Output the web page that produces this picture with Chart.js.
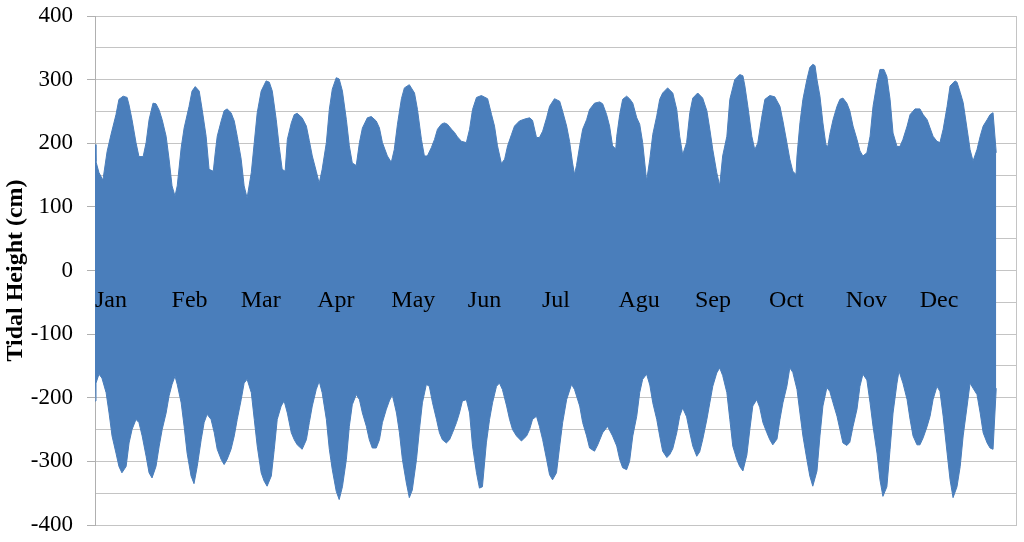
<!DOCTYPE html>
<html lang="en">
  <head>
    <meta charset="UTF-8">
    <!-- Chart.js CDN -->
    <script src="https://cdn.jsdelivr.net/npm/chart.js"></script>

    <style>
      body { margin: 0; background: #fff; }
      #tideChart { display: block; }
    </style>
  </head>
  <body>
    <canvas id="tideChart" width="1024" height="542"></canvas>

    <script>
      // month labels sit at the first day of each month
      const monthLabels = ['Jan', 'Feb', 'Mar', 'Apr', 'May', 'Jun', 'Jul', 'Agu', 'Sep', 'Oct', 'Nov', 'Dec'];
      const monthStart = [0, 31, 59, 90, 120, 151, 181, 212, 243, 273, 304, 334];

      // upper envelope of the tide (high waters), day of year / cm
      const highDay = [0, 0.4, 1.6, 3.2, 4.9, 6.5, 8.5, 9.7, 11.4, 13.0, 13.8, 15.0, 16.6, 17.8, 19.5, 20.7, 21.9, 23.5, 24.7, 26.0,
        27.2, 28.8, 30.0, 31.2, 32.4, 33.3, 34.9, 36.1, 38.1, 39.3, 40.6, 42.2, 43.4, 45.0, 46.2, 47.9, 48.7, 49.5, 51.1, 52.3,
        53.5, 55.1, 56.4, 57.6, 59.2, 60.4, 61.6, 63.3, 64.5, 65.7, 67.3, 69.3, 70.6, 71.8, 73.4, 74.6, 75.8, 77.0, 77.9, 79.5,
        80.7, 81.9, 83.9, 85.6, 86.8, 88.0, 89.6, 90.8, 92.0, 93.7, 94.9, 96.1, 97.7, 98.9, 100.2, 101.8, 103.0, 104.2, 105.8, 107.1,
        108.3, 110.3, 111.9, 113.9, 115.2, 116.4, 118.4, 120.0, 121.2, 122.5, 124.1, 125.3, 127.3, 129.4, 130.6, 132.2, 133.4, 134.6, 136.2, 137.5,
        138.7, 140.3, 141.5, 142.7, 144.4, 145.6, 146.8, 148.4, 150.4, 151.7, 152.9, 154.5, 156.5, 159.0, 160.6, 161.8, 163.0, 164.6, 165.9, 167.1,
        168.7, 169.9, 171.9, 174.0, 176.0, 177.2, 178.8, 180.0, 181.3, 182.9, 184.1, 186.1, 188.2, 189.4, 191.0, 192.2, 193.4, 194.2, 195.0, 196.3,
        197.5, 199.1, 200.3, 202.3, 204.4, 205.6, 207.2, 208.4, 209.6, 210.9, 211.3, 212.5, 213.7, 215.3, 216.5, 217.8, 219.4, 220.6, 221.8, 223.4,
        224.7, 225.9, 227.5, 228.7, 229.9, 231.9, 234.0, 235.6, 236.8, 238.0, 239.6, 240.9, 242.1, 244.1, 246.1, 247.8, 249.0, 250.2, 251.8, 253.0,
        254.2, 255.9, 257.1, 259.1, 261.1, 262.4, 263.2, 264.4, 266.0, 267.2, 268.4, 270.1, 271.3, 273.3, 275.3, 277.4, 278.6, 280.2, 281.4, 282.6,
        283.9, 284.3, 285.5, 286.7, 288.3, 289.5, 290.7, 291.6, 292.4, 293.6, 294.8, 296.0, 296.8, 297.6, 298.9, 300.5, 301.7, 302.9, 304.5, 305.7,
        307.0, 308.6, 309.8, 311.0, 312.6, 313.9, 315.1, 316.7, 317.9, 319.5, 320.7, 322.0, 323.2, 324.8, 326.0, 327.2, 328.9, 330.1, 332.1, 334.1,
        335.4, 337.0, 338.2, 339.4, 341.0, 342.2, 343.5, 345.1, 346.3, 348.3, 349.1, 350.4, 351.6, 353.2, 354.4, 355.6, 357.2, 358.5, 359.7, 361.3,
        362.5, 363.7, 365.0];
      const highCm = [198, 171, 154, 142, 187, 214, 245, 269, 274, 272, 260, 237, 201, 179, 179, 201, 237, 263, 262, 252,
        237, 211, 175, 133, 117, 133, 193, 224, 258, 282, 289, 282, 253, 211, 159, 156, 185, 211, 235, 251,
        254, 248, 235, 211, 175, 133, 114, 154, 201, 248, 282, 298, 296, 282, 237, 195, 159, 156, 206, 232,
        245, 247, 240, 227, 204, 180, 156, 137, 159, 201, 253, 285, 303, 301, 282, 237, 196, 169, 165, 201,
        224, 240, 242, 235, 224, 201, 180, 170, 190, 230, 270, 287, 292, 279, 253, 206, 180, 180, 193, 206,
        222, 230, 232, 230, 222, 217, 210, 203, 201, 222, 253, 272, 275, 270, 245, 227, 196, 168, 175, 196,
        214, 227, 235, 238, 240, 236, 209, 209, 219, 240, 258, 270, 266, 250, 227, 203, 169, 151, 165, 196,
        222, 237, 253, 263, 265, 262, 245, 227, 196, 191, 211, 245, 269, 274, 270, 263, 240, 230, 201, 141,
        175, 214, 243, 269, 279, 287, 279, 253, 211, 182, 201, 248, 271, 279, 271, 251, 222, 190, 154, 133,
        180, 211, 269, 300, 308, 306, 290, 258, 211, 190, 200, 243, 269, 275, 273, 258, 235, 201, 175, 156,
        151, 180, 232, 269, 300, 319, 324, 322, 300, 274, 232, 198, 195, 214, 237, 258, 269, 271, 263, 251,
        227, 206, 188, 180, 185, 211, 258, 295, 316, 316, 305, 269, 216, 195, 195, 206, 227, 245, 254, 254,
        245, 237, 224, 211, 203, 201, 222, 258, 290, 298, 296, 280, 264, 222, 190, 172, 190, 211, 227, 237,
        245, 248, 185];

      // lower envelope of the tide (low waters), day of year / cm
      const lowDay = [0, 0.4, 1.6, 2.8, 4.5, 5.7, 6.9, 8.5, 9.7, 10.9, 12.6, 13.8, 15.0, 16.6, 17.8, 19.1, 20.7, 21.9, 23.1, 24.7,
        26.0, 27.2, 28.8, 30.0, 31.2, 32.4, 33.3, 34.9, 36.1, 37.3, 38.9, 40.1, 41.4, 43.0, 44.2, 45.4, 47.0, 48.3, 49.5, 51.1,
        52.3, 53.5, 55.1, 56.4, 57.6, 59.2, 60.4, 61.6, 63.3, 64.5, 65.7, 67.3, 68.5, 69.7, 71.4, 72.6, 73.8, 75.4, 76.6, 77.9,
        79.5, 80.7, 81.9, 83.9, 85.6, 86.8, 88.0, 89.6, 90.8, 92.0, 93.7, 94.9, 96.1, 97.7, 98.9, 100.2, 101.8, 103.0, 104.2, 105.8,
        107.1, 108.3, 109.9, 111.1, 112.3, 113.9, 115.2, 116.4, 118.0, 119.2, 120.4, 122.1, 123.3, 124.5, 126.1, 127.3, 128.5, 130.2, 131.4, 132.6,
        134.2, 135.4, 136.7, 138.3, 139.5, 140.7, 142.3, 143.6, 144.8, 146.4, 147.6, 148.8, 150.4, 151.7, 152.9, 154.5, 155.7, 156.9, 158.5, 159.8,
        161.0, 162.6, 163.8, 165.0, 166.7, 167.9, 169.1, 170.7, 172.7, 174.8, 176.0, 177.2, 178.8, 180.0, 181.3, 182.9, 184.1, 185.3, 186.9, 188.2,
        189.4, 191.0, 193.0, 194.2, 196.3, 197.5, 199.1, 200.3, 202.3, 203.6, 205.6, 207.6, 209.6, 211.3, 212.5, 213.7, 215.3, 216.5, 217.8, 219.4,
        220.6, 221.8, 223.4, 224.7, 225.9, 227.5, 228.7, 229.9, 231.6, 232.8, 234.0, 235.6, 236.8, 238.0, 239.6, 240.9, 242.1, 243.7, 244.9, 246.1,
        247.8, 249.0, 250.2, 251.8, 253.0, 254.2, 255.9, 257.1, 258.3, 259.9, 261.1, 262.4, 264.0, 265.2, 266.4, 268.0, 269.2, 270.5, 272.1, 273.3,
        274.5, 276.2, 277.4, 278.6, 280.2, 281.4, 282.6, 284.3, 285.5, 286.7, 288.3, 289.5, 290.7, 292.4, 293.6, 294.8, 296.4, 297.6, 298.9, 300.5,
        301.7, 302.9, 304.5, 305.7, 307.0, 308.6, 309.8, 311.0, 312.6, 313.9, 315.1, 316.7, 317.9, 319.1, 320.7, 322.0, 323.2, 324.8, 325.6, 327.2,
        328.9, 330.1, 331.3, 332.9, 334.1, 335.4, 337.0, 338.2, 339.4, 341.0, 342.2, 343.5, 345.1, 346.3, 347.5, 349.1, 350.4, 351.6, 353.2, 354.4,
        355.6, 357.2, 358.5, 359.7, 361.3, 362.5, 363.7, 365.0];
      const lowCm = [-205, -177, -163, -169, -192, -224, -260, -287, -308, -318, -308, -271, -250, -234, -239, -260, -292, -318, -326, -308,
        -276, -250, -224, -197, -179, -166, -179, -208, -245, -287, -323, -335, -308, -266, -239, -226, -234, -255, -281, -297,
        -305, -297, -281, -260, -234, -203, -177, -171, -192, -234, -276, -318, -331, -339, -323, -281, -234, -213, -205, -224,
        -255, -266, -274, -281, -266, -239, -213, -187, -174, -192, -234, -281, -313, -347, -360, -340, -297, -245, -211, -195,
        -203, -224, -245, -266, -279, -279, -266, -239, -218, -205, -195, -224, -255, -297, -334, -357, -345, -297, -250, -208,
        -179, -182, -208, -234, -255, -266, -271, -266, -255, -239, -224, -205, -203, -224, -276, -318, -342, -340, -271, -234,
        -208, -182, -177, -187, -213, -234, -250, -260, -268, -260, -250, -234, -229, -245, -266, -297, -321, -329, -318, -276,
        -239, -203, -179, -187, -213, -239, -260, -279, -284, -274, -255, -245, -260, -276, -297, -310, -313, -300, -260, -229,
        -192, -171, -163, -180, -208, -234, -260, -284, -294, -289, -280, -255, -229, -216, -230, -255, -276, -292, -285, -266,
        -234, -208, -182, -161, -153, -165, -192, -234, -276, -297, -308, -315, -290, -250, -213, -203, -215, -239, -255, -266,
        -274, -265, -234, -208, -182, -153, -160, -187, -224, -260, -297, -323, -339, -315, -260, -213, -184, -190, -208, -229,
        -250, -271, -275, -270, -245, -218, -182, -163, -172, -208, -245, -287, -329, -355, -340, -281, -224, -177, -158, -177,
        -203, -234, -260, -274, -274, -263, -245, -229, -203, -182, -190, -229, -287, -329, -357, -340, -308, -260, -213, -177,
        -185, -195, -224, -255, -271, -279, -281, -185];

      const blue = '#4a7ebb';
      const serif = "'Liberation Serif', 'Times New Roman', serif";

      const ctx = document.getElementById('tideChart').getContext('2d');

      const data = {
        datasets: [
          {
            label: 'High',
            data: highDay.map((d, i) => ({ x: d, y: highCm[i] })),
            borderColor: blue,
            backgroundColor: blue,
            borderWidth: 1,
            pointRadius: 0,
            tension: 0,
            fill: '+1'
          },
          {
            label: 'Low',
            data: lowDay.map((d, i) => ({ x: d, y: lowCm[i] })),
            borderColor: blue,
            backgroundColor: blue,
            borderWidth: 1,
            pointRadius: 0,
            tension: 0,
            fill: false
          }
        ]
      };

      const config = {
        type: 'line',
        data: data,
        options: {
          responsive: false,
          animation: false,
          layout: { padding: { left: 0, top: 16, right: 8, bottom: 17 } },
          plugins: {
            legend: { display: false },
            tooltip: { enabled: false }
          },
          scales: {
            x: {
              type: 'linear',
              min: 0,
              max: 373,
              position: { y: 0 },
              afterBuildTicks: function (scale) {
                scale.ticks = monthStart.map(v => ({ value: v }));
              },
              grid: { display: false, drawTicks: false },
              border: { display: false },
              ticks: {
                z: 1, // month names are written over the filled area
                autoSkip: false,
                maxRotation: 0,
                align: 'start',
                padding: 16,
                color: '#000',
                font: { family: serif, size: 24 },
                callback: function (value, index) {
                  return monthLabels[index];
                }
              }
            },
            y: {
              min: -400,
              max: 400,
              afterFit: function (scale) {
                scale.width = 95;
                scale.paddingTop = 0;
                scale.paddingBottom = 0;
              },
              ticks: {
                stepSize: 50,
                padding: 14,
                color: '#000',
                font: { family: serif, size: 23 },
                callback: function (value) {
                  return value % 100 === 0 ? value : '';
                }
              },
              grid: {
                color: '#c4c4c4',
                tickLength: 8,
                tickColor: c => (c.tick && c.tick.value % 100 === 0) ? '#b0b0b0' : 'rgba(0,0,0,0)'
              },
              border: { color: '#b0b0b0' },
              title: {
                display: true,
                text: 'Tidal Height (cm)',
                color: '#000',
                font: { family: serif, size: 24, weight: 'bold' },
                padding: { top: 1, bottom: 0 }
              }
            },
            y2: {
              position: 'right',
              min: -400,
              max: 400,
              afterFit: function (scale) {
                scale.width = 0;
                scale.paddingTop = 0;
                scale.paddingBottom = 0;
              },
              ticks: { display: false },
              grid: { display: false, drawTicks: false },
              border: { color: '#c4c4c4' }
            }
          }
        }
      };

      new Chart(ctx, config);
    </script>
  </body>
</html>
